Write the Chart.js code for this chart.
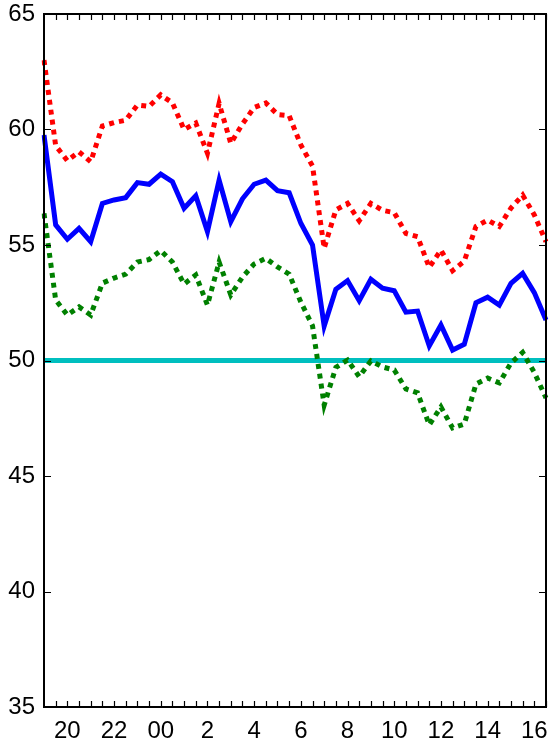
<!DOCTYPE html>
<html>
<head>
<meta charset="utf-8">
<script src="https://cdn.jsdelivr.net/npm/chart.js@4/dist/chart.umd.min.js"></script>
<style>
  html, body { margin: 0; padding: 0; background: #fff; }
  #wrap { width: 550px; height: 747px; position: relative; }
</style>
</head>
<body>
<div id="wrap"><canvas id="c" width="550" height="747"></canvas></div>
<script>
// ---- data ----
const times = ["19:00","19:30","20:00","20:30","21:00","21:30","22:00","22:30","23:00","23:30",
               "00:00","00:30","01:00","01:30","02:00","02:30","03:00","03:30","04:00","04:30",
               "05:00","05:30","06:00","06:30","07:00","07:30","08:00","08:30","09:00","09:30",
               "10:00","10:30","11:00","11:30","12:00","12:30","13:00","13:30","14:00","14:30",
               "15:00","15:30","16:00","16:30"];

const labelTimes = ["20:00","22:00","00:00","02:00","04:00","06:00","08:00","10:00","12:00","14:00","16:00"];
const hourLabels = ["20","22","00","2","4","6","8","10","12","14","16"];

const yTicks = [35, 40, 45, 50, 55, 60, 65];

const meanSeries = [59.76,55.87,55.25,55.72,55.14,56.80,56.95,57.05,57.70,57.63,
                    58.07,57.74,56.59,57.13,55.58,57.81,56.01,57.00,57.63,57.81,
                    57.35,57.26,55.94,55.00,51.49,53.08,53.46,52.59,53.52,53.13,
                    53.02,52.09,52.14,50.63,51.54,50.45,50.70,52.50,52.74,52.40,
                    53.34,53.77,52.94,51.75];

const upperSeries = [63.00,59.30,58.65,59.03,58.60,60.15,60.30,60.40,61.06,61.00,
                     61.50,61.15,60.00,60.28,58.97,61.13,59.40,60.24,60.95,61.15,
                     60.65,60.60,59.33,58.42,54.86,56.52,56.80,56.05,56.80,56.50,
                     56.40,55.50,55.36,54.03,54.78,53.89,54.30,55.80,56.08,55.80,
                     56.60,57.16,56.30,55.14];

const lowerSeries = [56.37,52.62,51.97,52.32,51.97,53.35,53.57,53.74,54.26,54.37,
                     54.76,54.26,53.31,53.70,52.40,54.26,52.84,53.61,54.18,54.42,
                     54.05,53.74,52.53,51.50,48.07,49.70,50.02,49.30,49.98,49.72,
                     49.59,48.77,48.60,47.21,47.99,47.08,47.25,48.98,49.24,49.03,
                     49.89,50.35,49.48,48.38];

const referenceLine = [50,50,50,50,50,50,50,50,50,50,
                       50,50,50,50,50,50,50,50,50,50,
                       50,50,50,50,50,50,50,50,50,50,
                       50,50,50,50,50,50,50,50,50,50,
                       50,50,50,50];

// ---- frame + inward tick marks, positioned through the chart's scales ----
const framePlugin = {
  id: 'frame',
  afterDatasetsDraw(chart) {
    const { ctx, chartArea: a, scales } = chart;
    const x = scales.x, y = scales.y;
    ctx.save();
    ctx.strokeStyle = '#000';
    ctx.lineWidth = 1.2;
    ctx.beginPath();
    yTicks.forEach(v => {
      const py = Math.round(y.getPixelForValue(v)) + 0.5;
      ctx.moveTo(a.left, py); ctx.lineTo(a.left + 7, py);
      ctx.moveTo(a.right, py); ctx.lineTo(a.right - 7, py);
    });
    times.forEach((t, i) => {
      if (i === 0) return;
      const px = Math.round(x.getPixelForValue(i)) + 0.5;
      ctx.moveTo(px, a.bottom); ctx.lineTo(px, a.bottom - 6);
      ctx.moveTo(px, a.top); ctx.lineTo(px, a.top + 6);
    });
    ctx.stroke();
    ctx.lineWidth = 2;
    ctx.strokeRect(a.left, a.top, a.right - a.left, a.bottom - a.top);
    ctx.restore();
  }
};

Chart.defaults.font.family = '"Liberation Sans", Arial, Helvetica, sans-serif';
Chart.defaults.font.size = 24;
Chart.defaults.color = '#000';

new Chart(document.getElementById('c'), {
  type: 'line',
  data: {
    labels: times,
    datasets: [
      { label: 'mean', data: meanSeries, borderColor: '#0000FF', borderWidth: 5,
        pointRadius: 0, tension: 0, fill: false, borderJoinStyle: 'miter' },
      { label: 'upper', data: upperSeries, borderColor: '#FF0000', borderWidth: 5,
        borderDash: [5, 5], pointRadius: 0, tension: 0, fill: false },
      { label: 'lower', data: lowerSeries, borderColor: '#008000', borderWidth: 5,
        borderDash: [5, 5], pointRadius: 0, tension: 0, fill: false },
      { label: 'reference', data: referenceLine, borderColor: '#00BFBF', borderWidth: 5,
        pointRadius: 0, tension: 0, fill: false }
    ]
  },
  options: {
    responsive: false,
    animation: false,
    devicePixelRatio: 1,
    layout: { padding: { top: 14, right: 4, left: 0, bottom: 0 } },
    plugins: { legend: { display: false }, tooltip: { enabled: false } },
    scales: {
      x: {
        type: 'category',
        offset: false,
        grid: { display: false, drawTicks: false },
        border: { display: false },
        ticks: {
          autoSkip: false,
          maxRotation: 0,
          minRotation: 0,
          padding: 10,
          callback: function(value, index) {
            const k = labelTimes.indexOf(times[index]);
            return k >= 0 ? hourLabels[k] : '';
          }
        },
        afterFit(scale) {
          scale.height = 40;
          scale.paddingLeft = 0; scale.paddingRight = 0;
          scale.paddingTop = 0; scale.paddingBottom = 0;
        }
      },
      y: {
        min: 35,
        max: 65,
        grid: { display: false, drawTicks: false },
        border: { display: false },
        ticks: { stepSize: 5, padding: 9 },
        afterFit(scale) {
          scale.width = 44;
          scale.paddingLeft = 0; scale.paddingRight = 0;
          scale.paddingTop = 0; scale.paddingBottom = 0;
        }
      }
    }
  },
  plugins: [framePlugin]
});
</script>
</body>
</html>
